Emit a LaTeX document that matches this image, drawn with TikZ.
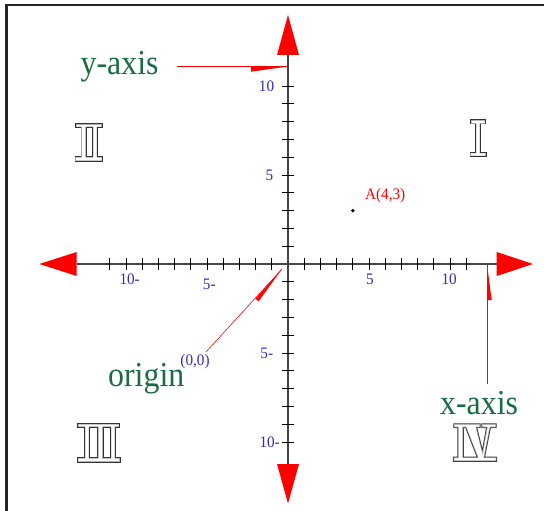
\documentclass[tikz,border=0pt]{standalone}
\usepackage{fontspec}
\newfontfamily\bigserif[FakeStretch=0.91]{Liberation Serif}
\newfontfamily\smallserif[FakeStretch=0.95]{Liberation Serif}
\definecolor{axisgreen}{RGB}{25,110,65}
\definecolor{ticblue}{RGB}{45,45,190}
\definecolor{axgray}{RGB}{70,70,70}
\tikzset{
  bigtxt/.style={font=\bigserif\fontsize{35}{40}\selectfont, text=axisgreen, inner sep=0pt},
  ticklab/.style={font=\smallserif\fontsize{16}{18}\selectfont, text=ticblue, inner sep=0pt},
  redlab/.style={font=\smallserif\fontsize{16}{18}\selectfont, text=red, inner sep=0pt},
  axisline/.style={draw=axgray, line width=1.3pt},
  tickline/.style={draw=black, line width=0.9pt},
  headfill/.style={fill=red},
  pointer/.style={draw=red, line width=0.8pt},
  wedge/.style={fill=red},
  frameline/.style={draw=black!85, line width=2.2pt},
}
\newcommand{\romanglyph}[1]{%
  \draw[line width=3pt, draw=black!80] #1;
  \draw[line width=1.4pt, draw=black!35] #1;
  \fill[white] #1;}
\begin{document}
\begin{tikzpicture}[x=1pt,y=-1pt]
\useasboundingbox (0,0) rectangle (544,511);
\fill[white] (0,0) rectangle (544,511);
% frame
\draw[frameline] (6.5,511) -- (6.5,5) -- (544,5);
% axes
\coordinate (O) at (288,264);
\coordinate (L) at (76.7,264);
\coordinate (R) at (496.7,264);
\coordinate (T) at (288,55);
\coordinate (B) at (288,464);
\draw[axisline] (L) -- (R);
\draw[axisline] (T) -- (B);
% arrowheads
\fill[headfill] (39.3,264) -- (76.7,252) -- (76.7,276) -- cycle;
\fill[headfill] (533,264) -- (496.7,252) -- (496.7,276) -- cycle;
\fill[headfill] (288,15) -- (277,55) -- (299,55) -- cycle;
\fill[headfill] (288,503.5) -- (277,464) -- (299,464) -- cycle;
% ticks
\foreach \k in {-11,...,-1,1,2,...,11}
  \draw[tickline] ({288+16.2*\k},258) -- ({288+16.2*\k},270);
\foreach \k in {-10,...,-1,1,2,...,10}
  \draw[tickline] (282,{264-17.8*\k}) -- (294,{264-17.8*\k});
% tick labels
\node[ticklab, anchor=west] (xm10) at (119.3,279.3) {10-};
\node[ticklab, anchor=west] (xm5) at (202.7,284.2) {5-};
\node[ticklab] (xp5) at (370,279.2) {5};
\node[ticklab] (xp10) at (449.2,279.2) {10};
\node[ticklab, anchor=east] (yp10) at (274.3,86.7) {10};
\node[ticklab, anchor=east] (yp5) at (273.5,175.5) {5};
\node[ticklab, anchor=east] (ym5) at (273.3,353) {5-};
\node[ticklab, anchor=east] (ym10) at (280,442.5) {10-};
% point A
\fill[black] (352.8,210.6) circle (1.9);
\node[redlab, anchor=west] (alab) at (365,195.5) {A(4,3)};
% big labels
\node[bigtxt, anchor=base west] (ylab) at (80.5,75) {y-axis};
\node[bigtxt, anchor=base west] (olab) at (108,386.5) {origin};
\node[bigtxt, anchor=base west] (xlab) at (440,414) {x-axis};
\node[ticklab] (orglab) at (195,362) {(0,0)};
% pointers
\coordinate (ytail) at (177,66.7);
\coordinate (yhead) at (287.5,66.7);
\draw[pointer] (ytail) -- (yhead);
\fill[wedge] (251,67.2) -- (251,71.7) -- (283,67.2) -- cycle;
\coordinate (xtail) at (487.5,384);
\coordinate (xhead) at (487.5,264);
\draw[pointer] (xtail) -- (xhead);
\fill[wedge] (487,264) -- (487,300) -- (491.7,300) -- cycle;
\coordinate (otail) at (206,352);
\coordinate (ohead) at (282,269);
\draw[pointer, line width=0.6pt] (otail) -- (ohead);
\fill[wedge] (255.4,298.8) -- (258.6,301.3) -- (282,269) -- cycle;
% Roman numeral I
\begin{scope}[shift={(470,119.3)}]
\romanglyph{(1.5,1.5) rectangle (14.5,3.6) (1,34) rectangle (15,36.2) (6.4,3) rectangle (9.6,34.5)}
\end{scope}
% II
\begin{scope}[shift={(75,123.3)}]
\romanglyph{(1.5,1.5) rectangle (26.2,3.4) (1,34.2) rectangle (26.7,37) (7,3) rectangle (10.4,34.5) (18.3,3) rectangle (21.5,34.5)}
\end{scope}
% III
\begin{scope}[shift={(77.3,423)}]
\romanglyph{(1.5,1.5) rectangle (41.2,3.4) (1,35.5) rectangle (41.7,38.2) (8,3) rectangle (11.4,36) (21.3,3) rectangle (24.7,36) (34,3) rectangle (37.4,36)}
\end{scope}
% IV
\begin{scope}[shift={(453.3,423.3)}]
\romanglyph{(1.5,1.5) rectangle (25.8,3.4) (29.6,1.5) rectangle (41.9,3.4) (1,34.8) rectangle (42.4,37) (5.6,3) rectangle (9,35) (13,3) -- (22,3) -- (30,35) -- (25.5,35) -- cycle (34.5,3) -- (36.3,3) -- (30,35) -- (28.8,35) -- cycle}
\end{scope}
\end{tikzpicture}
\end{document}
